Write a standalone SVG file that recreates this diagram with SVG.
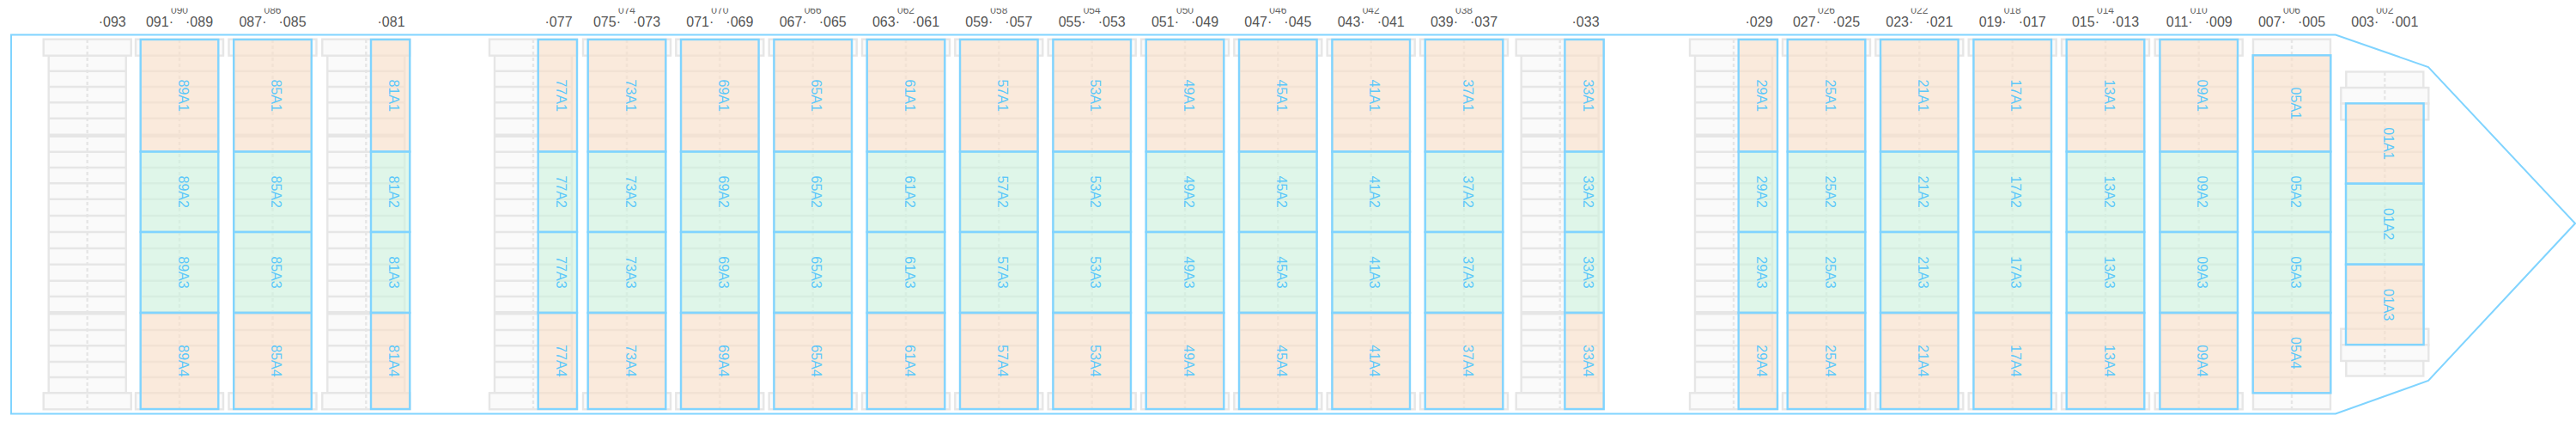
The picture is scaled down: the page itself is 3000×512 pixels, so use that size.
<svg xmlns="http://www.w3.org/2000/svg" xmlns:xlink="http://www.w3.org/1999/xlink" width="3000" height="512" viewBox="0 0 3000 512">
<style>
.g{fill:#fafafa;stroke:#e6e6e6;stroke-width:2.4}
.l{fill:none;stroke:#e6e6e6;stroke-width:2.4}
.d{fill:none;stroke:#e6e6e6;stroke-width:2.4;stroke-dasharray:4 3}
.o{fill:rgb(250,224,200);fill-opacity:.6;stroke:#80d4ff;stroke-width:2.4}
.n{fill:rgb(205,243,222);fill-opacity:.6;stroke:#80d4ff;stroke-width:2.4}
.b{font:16px "Liberation Sans",Arial,sans-serif;fill:#5cc8fa;text-anchor:middle}
.h{font:16px "Liberation Sans",Arial,sans-serif;fill:#555}
.e{text-anchor:end}
.s{font:12px "Liberation Sans",Arial,sans-serif;fill:#666;text-anchor:middle}
</style>
<defs>
<clipPath id="top"><rect x="0" y="9.5" width="3000" height="30"/></clipPath>
<g id="rows">
<rect class="g" x="-45" y="64.7" width="90" height="392.6"/>
<path class="l" d="M-45 82.7H45M-45 101H45M-45 119.3H45M-45 137.7H45M-45 156.7H45M-45 158.7H45M-45 176.7H45M-45 195H45M-45 213.3H45M-45 231.7H45M-45 251H45M-45 270H45M-45 289H45M-45 307.7H45M-45 326.7H45M-45 345H45M-45 363.3H45M-45 365.3H45M-45 384H45M-45 402.3H45M-45 421H45M-45 439H45"/>
</g>
<g id="stack">
<use href="#rows"/>
<rect class="g" x="-51" y="45.7" width="102" height="19"/>
<rect class="g" x="-51" y="457.3" width="102" height="19"/>
<path class="d" d="M0 46V476"/>
</g>
<g id="bay">
<rect class="o" x="-45.3" y="46" width="90.6" height="130.5"/>
<rect class="n" x="-45.3" y="176.5" width="90.6" height="93.5"/>
<rect class="n" x="-45.3" y="270" width="90.6" height="94"/>
<rect class="o" x="-45.3" y="364" width="90.6" height="112"/>
</g>
<g id="half">
<rect class="o" x="5.7" y="46" width="45.3" height="130.5"/>
<rect class="n" x="5.7" y="176.5" width="45.3" height="93.5"/>
<rect class="n" x="5.7" y="270" width="45.3" height="94"/>
<rect class="o" x="5.7" y="364" width="45.3" height="112"/>
</g>
</defs>
<rect width="3000" height="512" fill="#fff"/>
<path id="hull" d="M13 40.5H2720L2828 78L2999 260L2828 443L2720 481.5H13Z" fill="none" stroke="#80d4ff" stroke-width="2"/>

<g id="labels-odd">
<text class="h" x="114.7" y="30.5">·093</text>
<text class="h e" x="202" y="30.5">091·</text><text class="h" x="216" y="30.5">·089</text>
<text class="h e" x="310.5" y="30.5">087·</text><text class="h" x="324.5" y="30.5">·085</text>
<text class="h" x="439.5" y="30.5">·081</text>
<text class="h" x="634.5" y="30.5">·077</text>
<text class="h e" x="723" y="30.5">075·</text><text class="h" x="737" y="30.5">·073</text>
<text class="h e" x="831.3" y="30.5">071·</text><text class="h" x="845.3" y="30.5">·069</text>
<text class="h e" x="939.7" y="30.5">067·</text><text class="h" x="953.7" y="30.5">·065</text>
<text class="h e" x="1048" y="30.5">063·</text><text class="h" x="1062" y="30.5">·061</text>
<text class="h e" x="1156.3" y="30.5">059·</text><text class="h" x="1170.3" y="30.5">·057</text>
<text class="h e" x="1264.7" y="30.5">055·</text><text class="h" x="1278.7" y="30.5">·053</text>
<text class="h e" x="1373" y="30.5">051·</text><text class="h" x="1387" y="30.5">·049</text>
<text class="h e" x="1481.3" y="30.5">047·</text><text class="h" x="1495.3" y="30.5">·045</text>
<text class="h e" x="1589.7" y="30.5">043·</text><text class="h" x="1603.7" y="30.5">·041</text>
<text class="h e" x="1698" y="30.5">039·</text><text class="h" x="1712" y="30.5">·037</text>
<text class="h" x="1830.5" y="30.5">·033</text>
<text class="h" x="2032.5" y="30.5">·029</text>
<text class="h e" x="2120" y="30.5">027·</text><text class="h" x="2134" y="30.5">·025</text>
<text class="h e" x="2228.3" y="30.5">023·</text><text class="h" x="2242.3" y="30.5">·021</text>
<text class="h e" x="2336.7" y="30.5">019·</text><text class="h" x="2350.7" y="30.5">·017</text>
<text class="h e" x="2445" y="30.5">015·</text><text class="h" x="2459" y="30.5">·013</text>
<text class="h e" x="2553.7" y="30.5">011·</text><text class="h" x="2567.7" y="30.5">·009</text>
<text class="h e" x="2662" y="30.5">007·</text><text class="h" x="2676" y="30.5">·005</text>
<text class="h e" x="2770.3" y="30.5">003·</text><text class="h" x="2784.3" y="30.5">·001</text>
</g>
<g id="labels-even" clip-path="url(#top)">
<text class="s" x="209" y="15.5">090</text>
<text class="s" x="317.5" y="15.5">086</text>
<text class="s" x="730" y="15.5">074</text>
<text class="s" x="838.3" y="15.5">070</text>
<text class="s" x="946.7" y="15.5">066</text>
<text class="s" x="1055" y="15.5">062</text>
<text class="s" x="1163.3" y="15.5">058</text>
<text class="s" x="1271.7" y="15.5">054</text>
<text class="s" x="1380" y="15.5">050</text>
<text class="s" x="1488.3" y="15.5">046</text>
<text class="s" x="1596.7" y="15.5">042</text>
<text class="s" x="1705" y="15.5">038</text>
<text class="s" x="2127" y="15.5">026</text>
<text class="s" x="2235.3" y="15.5">022</text>
<text class="s" x="2343.7" y="15.5">018</text>
<text class="s" x="2452" y="15.5">014</text>
<text class="s" x="2560.7" y="15.5">010</text>
<text class="s" x="2669" y="15.5">006</text>
<text class="s" x="2777.3" y="15.5">002</text>
</g>

<g id="bay93" transform="translate(101.7,0)"><use href="#stack"/></g>

<g id="bay89" transform="translate(209,0)"><use href="#stack"/><use href="#bay"/>
<text class="b" transform="translate(-1.3,111.2) rotate(90)">89A1</text><text class="b" transform="translate(-1.3,223.2) rotate(90)">89A2</text><text class="b" transform="translate(-1.3,317) rotate(90)">89A3</text><text class="b" transform="translate(-1.3,420) rotate(90)">89A4</text></g>
<g id="bay85" transform="translate(317.5,0)"><use href="#stack"/><use href="#bay"/>
<text class="b" transform="translate(-1.3,111.2) rotate(90)">85A1</text><text class="b" transform="translate(-1.3,223.2) rotate(90)">85A2</text><text class="b" transform="translate(-1.3,317) rotate(90)">85A3</text><text class="b" transform="translate(-1.3,420) rotate(90)">85A4</text></g>
<g id="bay81" transform="translate(426.3,0)"><use href="#stack"/><use href="#half"/>
<text class="b" transform="translate(27,111.2) rotate(90)">81A1</text><text class="b" transform="translate(27,223.2) rotate(90)">81A2</text><text class="b" transform="translate(27,317) rotate(90)">81A3</text><text class="b" transform="translate(27,420) rotate(90)">81A4</text></g>
<g id="bay77" transform="translate(621,0)"><use href="#stack"/><use href="#half"/>
<text class="b" transform="translate(27,111.2) rotate(90)">77A1</text><text class="b" transform="translate(27,223.2) rotate(90)">77A2</text><text class="b" transform="translate(27,317) rotate(90)">77A3</text><text class="b" transform="translate(27,420) rotate(90)">77A4</text></g>
<g id="bay73" transform="translate(730,0)"><use href="#stack"/><use href="#bay"/>
<text class="b" transform="translate(-1.3,111.2) rotate(90)">73A1</text><text class="b" transform="translate(-1.3,223.2) rotate(90)">73A2</text><text class="b" transform="translate(-1.3,317) rotate(90)">73A3</text><text class="b" transform="translate(-1.3,420) rotate(90)">73A4</text></g>
<g id="bay69" transform="translate(838.3,0)"><use href="#stack"/><use href="#bay"/>
<text class="b" transform="translate(-1.3,111.2) rotate(90)">69A1</text><text class="b" transform="translate(-1.3,223.2) rotate(90)">69A2</text><text class="b" transform="translate(-1.3,317) rotate(90)">69A3</text><text class="b" transform="translate(-1.3,420) rotate(90)">69A4</text></g>
<g id="bay65" transform="translate(946.7,0)"><use href="#stack"/><use href="#bay"/>
<text class="b" transform="translate(-1.3,111.2) rotate(90)">65A1</text><text class="b" transform="translate(-1.3,223.2) rotate(90)">65A2</text><text class="b" transform="translate(-1.3,317) rotate(90)">65A3</text><text class="b" transform="translate(-1.3,420) rotate(90)">65A4</text></g>
<g id="bay61" transform="translate(1055,0)"><use href="#stack"/><use href="#bay"/>
<text class="b" transform="translate(-1.3,111.2) rotate(90)">61A1</text><text class="b" transform="translate(-1.3,223.2) rotate(90)">61A2</text><text class="b" transform="translate(-1.3,317) rotate(90)">61A3</text><text class="b" transform="translate(-1.3,420) rotate(90)">61A4</text></g>
<g id="bay57" transform="translate(1163.3,0)"><use href="#stack"/><use href="#bay"/>
<text class="b" transform="translate(-1.3,111.2) rotate(90)">57A1</text><text class="b" transform="translate(-1.3,223.2) rotate(90)">57A2</text><text class="b" transform="translate(-1.3,317) rotate(90)">57A3</text><text class="b" transform="translate(-1.3,420) rotate(90)">57A4</text></g>
<g id="bay53" transform="translate(1271.7,0)"><use href="#stack"/><use href="#bay"/>
<text class="b" transform="translate(-1.3,111.2) rotate(90)">53A1</text><text class="b" transform="translate(-1.3,223.2) rotate(90)">53A2</text><text class="b" transform="translate(-1.3,317) rotate(90)">53A3</text><text class="b" transform="translate(-1.3,420) rotate(90)">53A4</text></g>
<g id="bay49" transform="translate(1380,0)"><use href="#stack"/><use href="#bay"/>
<text class="b" transform="translate(-1.3,111.2) rotate(90)">49A1</text><text class="b" transform="translate(-1.3,223.2) rotate(90)">49A2</text><text class="b" transform="translate(-1.3,317) rotate(90)">49A3</text><text class="b" transform="translate(-1.3,420) rotate(90)">49A4</text></g>
<g id="bay45" transform="translate(1488.3,0)"><use href="#stack"/><use href="#bay"/>
<text class="b" transform="translate(-1.3,111.2) rotate(90)">45A1</text><text class="b" transform="translate(-1.3,223.2) rotate(90)">45A2</text><text class="b" transform="translate(-1.3,317) rotate(90)">45A3</text><text class="b" transform="translate(-1.3,420) rotate(90)">45A4</text></g>
<g id="bay41" transform="translate(1596.7,0)"><use href="#stack"/><use href="#bay"/>
<text class="b" transform="translate(-1.3,111.2) rotate(90)">41A1</text><text class="b" transform="translate(-1.3,223.2) rotate(90)">41A2</text><text class="b" transform="translate(-1.3,317) rotate(90)">41A3</text><text class="b" transform="translate(-1.3,420) rotate(90)">41A4</text></g>
<g id="bay37" transform="translate(1705,0)"><use href="#stack"/><use href="#bay"/>
<text class="b" transform="translate(-1.3,111.2) rotate(90)">37A1</text><text class="b" transform="translate(-1.3,223.2) rotate(90)">37A2</text><text class="b" transform="translate(-1.3,317) rotate(90)">37A3</text><text class="b" transform="translate(-1.3,420) rotate(90)">37A4</text></g>
<g id="bay33" transform="translate(1816.7,0)"><use href="#stack"/><use href="#half"/>
<text class="b" transform="translate(27,111.2) rotate(90)">33A1</text><text class="b" transform="translate(27,223.2) rotate(90)">33A2</text><text class="b" transform="translate(27,317) rotate(90)">33A3</text><text class="b" transform="translate(27,420) rotate(90)">33A4</text></g>
<g id="bay29" transform="translate(2019,0)"><use href="#stack"/><use href="#half"/>
<text class="b" transform="translate(27,111.2) rotate(90)">29A1</text><text class="b" transform="translate(27,223.2) rotate(90)">29A2</text><text class="b" transform="translate(27,317) rotate(90)">29A3</text><text class="b" transform="translate(27,420) rotate(90)">29A4</text></g>
<g id="bay25" transform="translate(2127,0)"><use href="#stack"/><use href="#bay"/>
<text class="b" transform="translate(-1.3,111.2) rotate(90)">25A1</text><text class="b" transform="translate(-1.3,223.2) rotate(90)">25A2</text><text class="b" transform="translate(-1.3,317) rotate(90)">25A3</text><text class="b" transform="translate(-1.3,420) rotate(90)">25A4</text></g>
<g id="bay21" transform="translate(2235.3,0)"><use href="#stack"/><use href="#bay"/>
<text class="b" transform="translate(-1.3,111.2) rotate(90)">21A1</text><text class="b" transform="translate(-1.3,223.2) rotate(90)">21A2</text><text class="b" transform="translate(-1.3,317) rotate(90)">21A3</text><text class="b" transform="translate(-1.3,420) rotate(90)">21A4</text></g>
<g id="bay17" transform="translate(2343.7,0)"><use href="#stack"/><use href="#bay"/>
<text class="b" transform="translate(-1.3,111.2) rotate(90)">17A1</text><text class="b" transform="translate(-1.3,223.2) rotate(90)">17A2</text><text class="b" transform="translate(-1.3,317) rotate(90)">17A3</text><text class="b" transform="translate(-1.3,420) rotate(90)">17A4</text></g>
<g id="bay13" transform="translate(2452,0)"><use href="#stack"/><use href="#bay"/>
<text class="b" transform="translate(-1.3,111.2) rotate(90)">13A1</text><text class="b" transform="translate(-1.3,223.2) rotate(90)">13A2</text><text class="b" transform="translate(-1.3,317) rotate(90)">13A3</text><text class="b" transform="translate(-1.3,420) rotate(90)">13A4</text></g>
<g id="bay09" transform="translate(2560.7,0)"><use href="#stack"/><use href="#bay"/>
<text class="b" transform="translate(-1.3,111.2) rotate(90)">09A1</text><text class="b" transform="translate(-1.3,223.2) rotate(90)">09A2</text><text class="b" transform="translate(-1.3,317) rotate(90)">09A3</text><text class="b" transform="translate(-1.3,420) rotate(90)">09A4</text></g>

<g id="bay05" transform="translate(2669,0)">
<use href="#rows"/>
<rect class="g" x="-45" y="45.7" width="90" height="19"/>
<rect class="g" x="-45" y="457.3" width="90" height="19"/>
<path class="d" d="M0 46V476"/>
<rect class="o" x="-45.3" y="64.3" width="90.6" height="112.2"/>
<rect class="n" x="-45.3" y="176.5" width="90.6" height="93.5"/>
<rect class="n" x="-45.3" y="270" width="90.6" height="94"/>
<rect class="o" x="-45.3" y="364" width="90.6" height="93.3"/>
<text class="b" transform="translate(-1.3,120.3) rotate(90)">05A1</text><text class="b" transform="translate(-1.3,223.2) rotate(90)">05A2</text><text class="b" transform="translate(-1.3,317) rotate(90)">05A3</text><text class="b" transform="translate(-1.3,410.7) rotate(90)">05A4</text></g>

<g id="bay01" transform="translate(2777.3,0)">
<rect class="g" x="-45" y="83.5" width="90" height="354"/>
<path class="l" d="M-45 158H45M-45 176.7H45M-45 195.3H45M-45 213.7H45M-45 232.5H45M-45 251H45M-45 270H45M-45 288.7H45M-45 307.7H45M-45 326.7H45M-45 345H45M-45 364H45"/>
<rect class="g" x="-51" y="102" width="102" height="18.5"/>
<rect class="g" x="-51" y="120.5" width="102" height="18.8"/>
<rect class="g" x="-51" y="382.7" width="102" height="18.6"/>
<rect class="g" x="-51" y="401.3" width="102" height="18.7"/>
<path class="d" d="M0 84V437"/>
<rect class="o" x="-45.3" y="120.3" width="90.6" height="93.4"/>
<rect class="n" x="-45.3" y="213.7" width="90.6" height="94"/>
<rect class="o" x="-45.3" y="307.7" width="90.6" height="93.4"/>
<text class="b" transform="translate(-1,167) rotate(90)">01A1</text><text class="b" transform="translate(-1,260.7) rotate(90)">01A2</text><text class="b" transform="translate(-1,354.7) rotate(90)">01A3</text></g>
</svg>
